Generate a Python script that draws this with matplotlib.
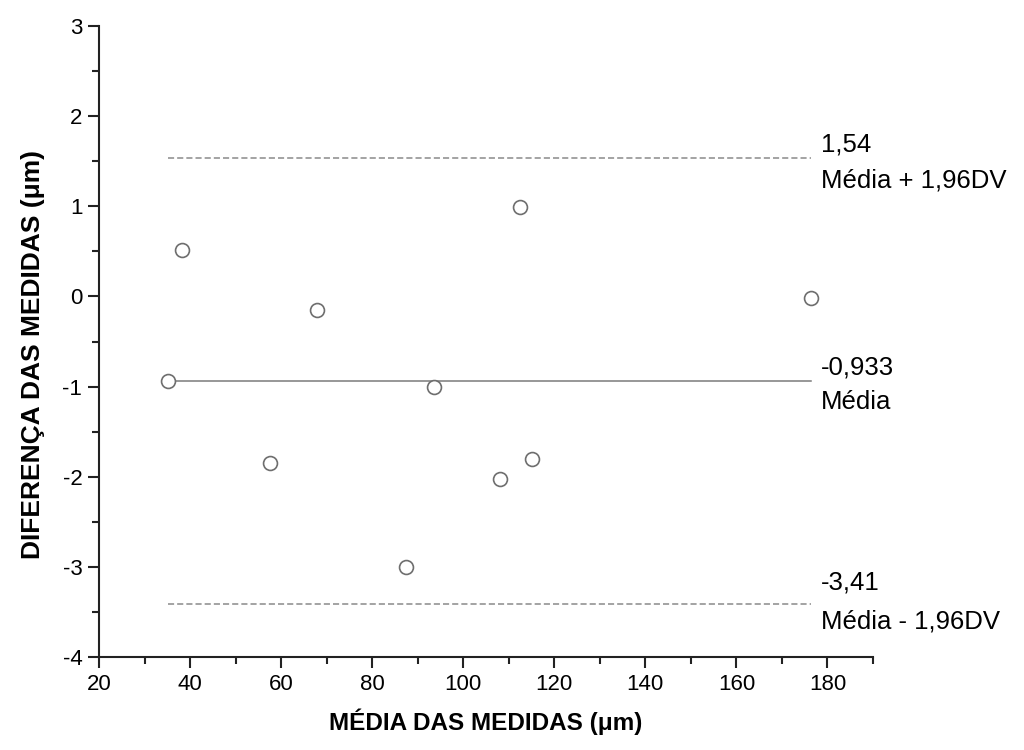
import numpy as np
import matplotlib
matplotlib.use("Agg")
import matplotlib.pyplot as plt
from matplotlib.ticker import MultipleLocator


# ==========================================================
# DATA
# ==========================================================

media_medidas = [35.1, 38.2, 57.6, 67.8, 87.5, 93.5, 108.1, 112.5, 115.1, 176.4]
diferenca = [-0.94, 0.51, -1.85, -0.15, -3.00, -1.01, -2.02, 0.99, -1.80, -0.02]

ref_values = [1.54, -0.933, -3.41]
ref_value_labels = ["1,54", "-0,933", "-3,41"]
ref_names = ["Média + 1,96DV", "Média", "Média - 1,96DV"]


# ==========================================================
# STYLE
# ==========================================================

plt.rcParams["font.family"] = ["Liberation Sans", "DejaVu Sans"]
plt.rcParams["axes.unicode_minus"] = False

line_styles = [(0, (4, 2)), "-", (0, (4, 2))]
line_colors = ["#8a8a8a", "#7a7a7a", "#8a8a8a"]
# pixel offsets of the value text (above) and name text (below) per line
value_offsets = [6, 6, 14]
name_offsets = [-11, -9, -6]


def main():
    fig = plt.figure(figsize=(10.24, 7.5), dpi=100)
    ax = fig.add_axes([0.0967, 0.124, 0.7558, 0.8413])

    x = np.asarray(media_medidas)
    y = np.asarray(diferenca)

    x_start, x_end = x.min(), x.max()
    for val, vlab, name, ls, col, vo, no in zip(
        ref_values, ref_value_labels, ref_names,
        line_styles, line_colors, value_offsets, name_offsets,
    ):
        ax.plot([x_start, x_end], [val, val], linestyle=ls, color=col,
                linewidth=1.1, zorder=1)
        ax.annotate(vlab, xy=(x_end, val), xytext=(10, vo),
                    textcoords="offset pixels", ha="left", va="baseline",
                    fontsize=18.5, annotation_clip=False)
        ax.annotate(name, xy=(x_end, val), xytext=(10, no),
                    textcoords="offset pixels", ha="left", va="top",
                    fontsize=18.5, annotation_clip=False)

    ax.plot(x, y, linestyle="none", marker="o", markersize=10,
            markerfacecolor="white", markeredgecolor="#6e6e6e",
            markeredgewidth=1.2, zorder=3)

    ax.set_xlim(20, 190)
    ax.set_ylim(-4, 3)
    ax.xaxis.set_major_locator(MultipleLocator(20))
    ax.xaxis.set_minor_locator(MultipleLocator(10))
    ax.yaxis.set_major_locator(MultipleLocator(1))
    ax.yaxis.set_minor_locator(MultipleLocator(0.5))

    for side in ["top", "right"]:
        ax.spines[side].set_visible(False)
    for side in ["left", "bottom"]:
        ax.spines[side].set_linewidth(1.5)
        ax.spines[side].set_color("#222222")

    ax.tick_params(which="major", direction="out", length=8, width=1.5,
                   labelsize=16, color="#222222", pad=4)
    ax.tick_params(which="minor", direction="out", length=5, width=1.5,
                   color="#222222")

    ax.set_xlabel("MÉDIA DAS MEDIDAS (μm)", fontsize=17.5, fontweight="bold")
    ax.set_ylabel("DIFERENÇA DAS MEDIDAS (μm)", fontsize=19,
                  fontweight="bold")
    ax.xaxis.set_label_coords(0.5, -0.081)
    ax.yaxis.set_label_coords(-0.07, 0.479)

    fig.savefig("out.png", dpi=100)


if __name__ == "__main__":
    main()
